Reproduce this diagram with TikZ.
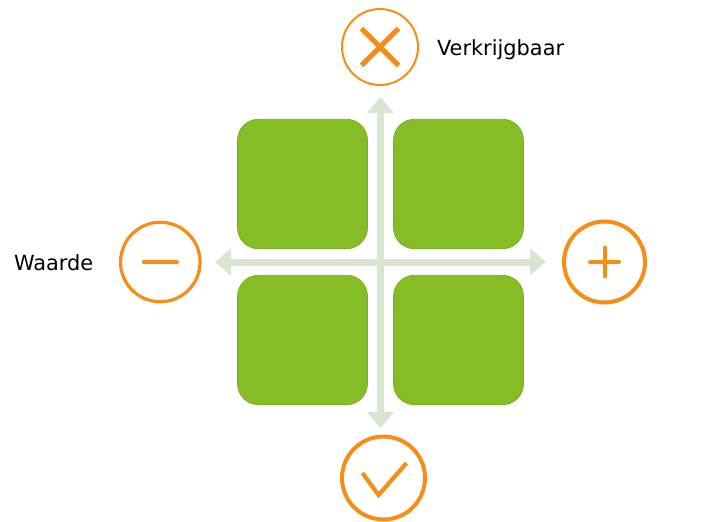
\documentclass[tikz,border=0pt]{standalone}
\usepackage{fontspec}
\setmainfont{DejaVu Sans}
\usetikzlibrary{arrows.meta}
\definecolor{leaf}{HTML}{86BC25}
\definecolor{leafedge}{HTML}{7AAD22}
\definecolor{axis}{HTML}{D9E6CF}
\definecolor{amber}{HTML}{F68D14}
\tikzset{
  tile/.style={draw=leafedge,line width=0.7pt,fill=leaf,rounded corners=21pt,minimum width=130pt,minimum height=129.5pt,inner sep=0pt,outer sep=0pt},
  ring/.style={circle,draw=amber,fill=white,inner sep=0pt,outer sep=0pt},
  axisline/.style={draw=axis,line width=7pt,{Triangle[length=16pt,width=26pt]}-{Triangle[length=16pt,width=26pt]}},
  glyph/.style={draw=amber,line cap=round},
  label/.style={inner sep=0pt,outer sep=0pt,text=black,font=\fontsize{20.9}{25}\selectfont,anchor=base west}
}
\begin{document}
\begin{tikzpicture}[x=1pt,y=-1pt]
\useasboundingbox (0,0) rectangle (723,522);
\node[tile] (tl) at (302.5,184) {};
\node[tile] (tr) at (458.5,184) {};
\node[tile] (bl) at (302.5,340) {};
\node[tile] (br) at (458.5,340) {};
\coordinate (axT) at (380.4,97);
\coordinate (axB) at (380.4,428);
\coordinate (axL) at (215,262);
\coordinate (axR) at (546,262);
\draw[axisline] (axT) -- (axB);
\draw[axisline] (axL) -- (axR);
\node[ring,line width=2pt,minimum size=76pt] (top) at (380,47) {};
\node[ring,line width=3.2pt,minimum size=79.5pt] (left) at (160.3,262) {};
\node[ring,line width=4pt,minimum size=81pt] (right) at (604.5,262) {};
\node[ring,line width=4pt,minimum size=83pt] (bottom) at (383.5,478) {};
\draw[draw=amber,line width=5pt] ([shift={(-18.5,-18.5)}]top.center) -- ([shift={(18.5,18.5)}]top.center);
\draw[draw=amber,line width=5pt] ([shift={(18.5,-18.5)}]top.center) -- ([shift={(-18.5,18.5)}]top.center);
\draw[glyph,line width=3.5pt] ([xshift=-16.8pt]left.center) -- ([xshift=16.8pt]left.center);
\draw[glyph,line width=4pt] ([xshift=-14.5pt]right.center) -- ([xshift=14.5pt]right.center);
\draw[glyph,line width=4pt] ([yshift=-14.5pt]right.center) -- ([yshift=14.5pt]right.center);
\draw[draw=amber,line width=4.2pt,miter limit=10] ([shift={(-21,-5)}]bottom.center) -- ([shift={(-5,17)}]bottom.center) -- ([shift={(23,-15)}]bottom.center);
\node[label] (lv) at (437,55) {Verkrijgbaar};
\node[label] (lw) at (14,270) {Waarde};
\end{tikzpicture}
\end{document}
